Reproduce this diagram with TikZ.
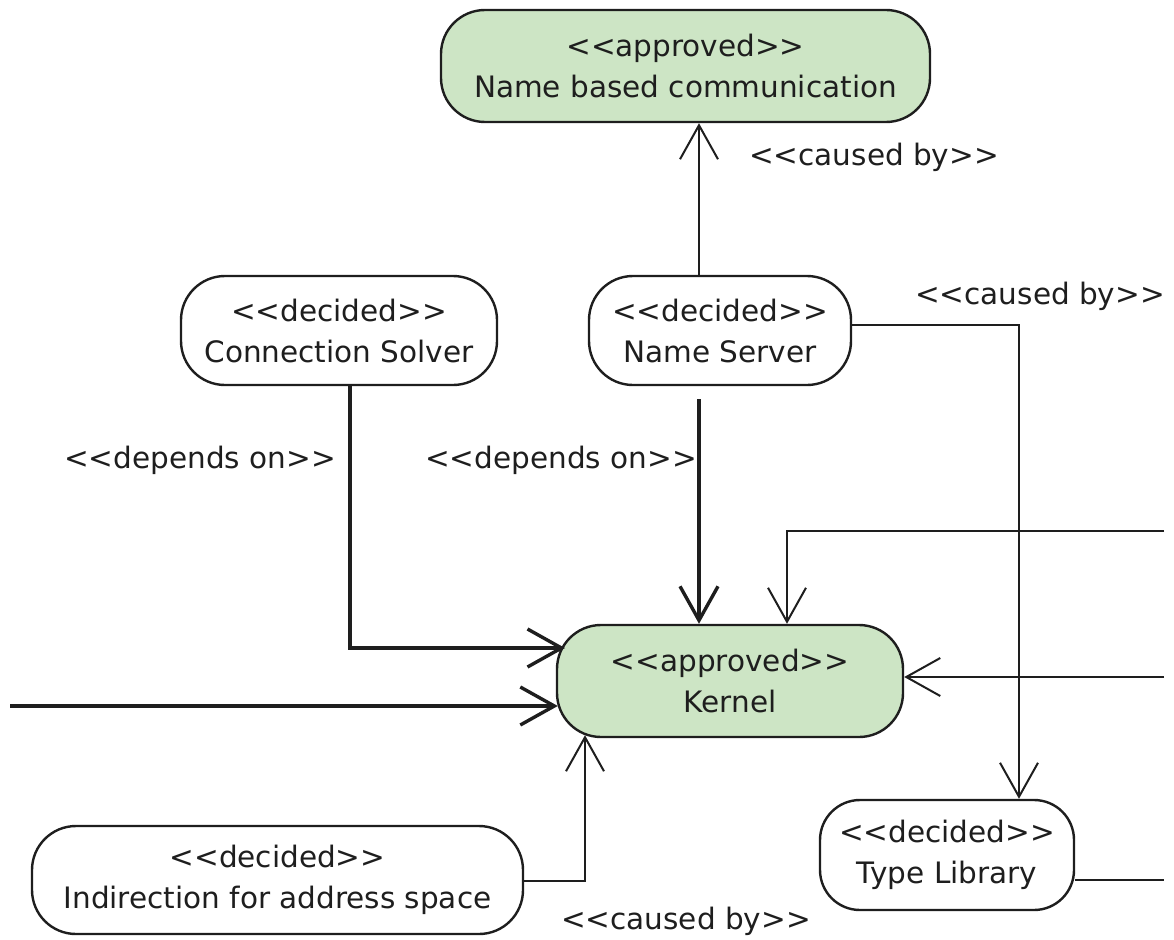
\documentclass[tikz,border=0pt]{standalone}
\usepackage{fontspec}
\setmainfont{DejaVu Sans}[Ligatures=TeXOff]
\usetikzlibrary{arrows.meta,calc}
\definecolor{ink}{HTML}{1E1E1E}
\definecolor{okfill}{HTML}{CDE5C5}
\tikzset{
  state/.style={draw=ink, line width=2.4pt, rounded corners=44pt, align=center,
    inner sep=0pt, text=ink, font=\fontsize{29.5}{41}\selectfont},
  approved/.style={state, fill=okfill},
  decided/.style={state, fill=white},
  tip/.style={-{Straight Barb[length=34pt,width=38pt]}},
  thinlink/.style={draw=ink, line width=2pt},
  thicklink/.style={draw=ink, line width=3.4pt},
  lbl/.style={text=ink, font=\fontsize{29.5}{34}\selectfont, inner sep=0pt}
}
\begin{document}
\begin{tikzpicture}[x=1pt,y=-1pt]
\useasboundingbox (0,0) rectangle (1174,939);

% states
\node[approved, minimum width=489pt, minimum height=112pt] (nbc) at (685.5,66)
  {<<approved>>\\Name based communication};
\node[decided, minimum width=316pt, minimum height=109pt] (cs) at (339,330.5)
  {<<decided>>\\Connection Solver};
\node[decided, minimum width=262pt, minimum height=109pt] (ns) at (720,330.5)
  {<<decided>>\\Name Server};
\node[approved, minimum width=346pt, minimum height=112pt] (kernel) at (730,681)
  {<<approved>>\\Kernel};
\node[decided, minimum width=491pt, minimum height=108pt] (ind) at (277.5,880)
  {<<decided>>\\Indirection for address space};
\node[decided, minimum width=254pt, minimum height=110pt, rounded corners=40pt] (tl) at (947,855)
  {<<decided>>\\Type Library};

% free ends at the picture border
\coordinate (inR1) at (1164,531);
\coordinate (inR2) at (1164,677);
\coordinate (inL) at (10,706);
\coordinate (outR) at (1164,880);
\coordinate (csBend) at (350,648);
\coordinate (nsBend) at (1019,325);
\coordinate (r1Bend) at (787,531);
\coordinate (indBend) at (585,881);
\coordinate (csTip) at (565,648);

% Name Server -> Name based communication
\draw[thinlink, tip] ([xshift=-21pt]ns.north) -- ([xshift=-21pt]ns.north |- nbc.south);
% Name Server -> Type Library
\draw[thinlink, tip] (ns.east |- nsBend) -- (nsBend) -- (nsBend |- tl.north);
% Connection Solver -> Kernel
\draw[thicklink, tip] ([xshift=11pt]cs.south) -- (csBend) -- (csTip);
% Name Server -> Kernel
\draw[thicklink, tip] ([xshift=-21pt,yshift=-13pt]ns.south) -- ([xshift=-21pt]ns.south |- kernel.north);
% incoming from the right, top
\draw[thinlink, tip] (inR1) -- (r1Bend) -- (r1Bend |- kernel.north);
% incoming from the right, middle
\draw[thinlink, tip] (inR2) -- (inR2 -| kernel.east);
% incoming from the left
\draw[thicklink, tip] (inL) -- ([xshift=2pt]inL -| kernel.west);
% Indirection -> Kernel
\draw[thinlink, tip] (ind.east |- indBend) -- (indBend) -- ([yshift=3pt]indBend |- kernel.south);
% Type Library -> outside
\draw[thinlink] (tl.east |- outR) -- (outR);

% connector labels
\node[lbl] (l1) at (874,157) {<<caused by>>};
\node[lbl] (l2) at (1040,296) {<<caused by>>};
\node[lbl] (l3) at (200,460) {<<depends on>>};
\node[lbl] (l4) at (561,460) {<<depends on>>};
\node[lbl] (l5) at (686,921) {<<caused by>>};
\end{tikzpicture}
\end{document}
